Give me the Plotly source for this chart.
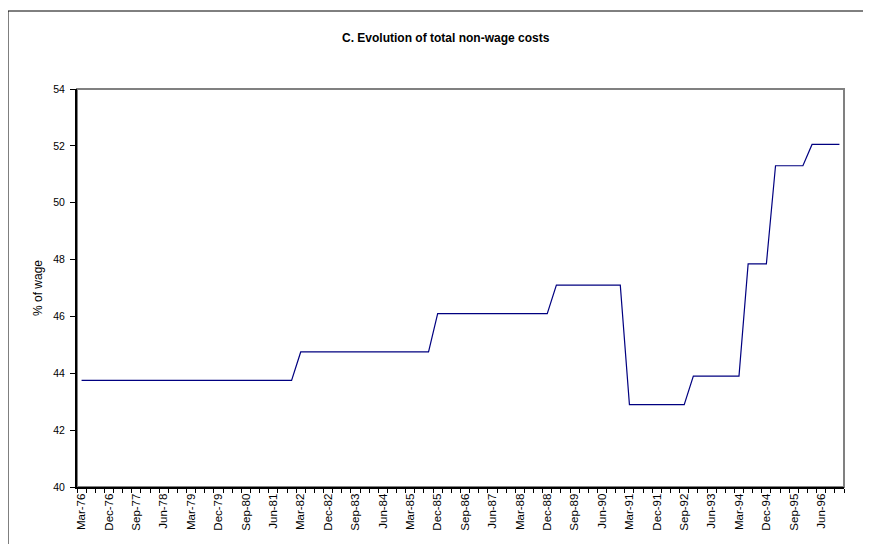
import plotly.graph_objects as go

# Quarterly categories Mar-76 .. Dec-96
months = ["Mar", "Jun", "Sep", "Dec"]
years = list(range(76, 97))
quarters = [f"{m}-{y:02d}" for y in years for m in months]

# Total non-wage costs, % of wage
nonwage_pct = [
    43.75, 43.75, 43.75, 43.75, 43.75, 43.75, 43.75, 43.75, 43.75, 43.75, 43.75, 43.75,
    43.75, 43.75, 43.75, 43.75, 43.75, 43.75, 43.75, 43.75, 43.75, 43.75, 43.75, 43.75,
    44.75, 44.75, 44.75, 44.75, 44.75, 44.75, 44.75, 44.75, 44.75, 44.75, 44.75, 44.75,
    44.75, 44.75, 44.75,
    46.1, 46.1, 46.1, 46.1, 46.1, 46.1, 46.1, 46.1, 46.1, 46.1, 46.1, 46.1, 46.1,
    47.1, 47.1, 47.1, 47.1, 47.1, 47.1, 47.1, 47.1,
    42.9, 42.9, 42.9, 42.9, 42.9, 42.9, 42.9,
    43.9, 43.9, 43.9, 43.9, 43.9, 43.9,
    47.85, 47.85, 47.85,
    51.3, 51.3, 51.3, 51.3,
    52.05, 52.05, 52.05, 52.05,
]

tick_labels = [
    "Mar-76", "Dec-76", "Sep-77", "Jun-78", "Mar-79", "Dec-79", "Sep-80", "Jun-81",
    "Mar-82", "Dec-82", "Sep-83", "Jun-84", "Mar-85", "Dec-85", "Sep-86", "Jun-87",
    "Mar-88", "Dec-88", "Sep-89", "Jun-90", "Mar-91", "Dec-91", "Sep-92", "Jun-93",
    "Mar-94", "Dec-94", "Sep-95", "Jun-96",
]

title_text = "C. Evolution of total non-wage costs"
y_title = "% of wage"

FONT = "Liberation Sans, Arial, sans-serif"

fig = go.Figure()
fig.add_trace(go.Scatter(
    x=quarters, y=nonwage_pct, mode="lines",
    line=dict(color="#000080", width=1.2),
    showlegend=False, hoverinfo="x+y",
))

# page body has an 8px margin, so the figure is laid out 8px smaller
OFF = 8
W, H = 871 - OFF, 544 - OFF
# plot area in screen pixels: x 77..844, y 89..487
L = 77 - OFF
T = 89 - OFF
R = W - (844 - OFF)
B = H - (487 - OFF)
pw, ph = W - L - R, H - T - B


def px_x(p):
    return (p - OFF - L) / pw


def px_y(p):
    return (H - B - (p - OFF)) / ph


fig.update_layout(
    width=W, height=H,
    margin=dict(l=L, r=R, t=T, b=B, pad=0),
    paper_bgcolor="white", plot_bgcolor="white",
    font=dict(family=FONT, size=10, color="black"),
    xaxis=dict(
        type="category", categoryorder="array", categoryarray=quarters,
        tickmode="array", tickvals=quarters,
        ticktext=[q if q in tick_labels else "" for q in quarters],
        tickson="boundaries", ticks="outside", ticklen=4, tickcolor="black", tickwidth=1,
        tickangle=-90, range=[-0.5, len(quarters) - 0.5],
        showline=True, linecolor="black", linewidth=2,
        showgrid=False, zeroline=False, fixedrange=True,
        tickfont=dict(family=FONT, size=11.5, color="black"),
    ),
    yaxis=dict(
        range=[40, 54], tickmode="linear", tick0=40, dtick=2,
        ticks="outside", ticklen=5, tickcolor="black", tickwidth=1,
        ticklabelstandoff=3,
        showline=True, linecolor="black", linewidth=2,
        showgrid=False, zeroline=False, fixedrange=True,
        tickfont=dict(family=FONT, size=10.5, color="black"),
    ),
    shapes=[
        dict(type="rect", xref="paper", yref="paper", x0=0, x1=1, y0=0, y1=1,
             line=dict(color="#808080", width=2), layer="below"),
        dict(type="rect", xref="paper", yref="paper",
             x0=px_x(8), x1=px_x(871 + 30), y0=px_y(544 + 30), y1=px_y(11),
             line=dict(color="black", width=1), layer="below"),
    ],
    annotations=[
        dict(text="<b>" + title_text + "</b>", xref="paper", yref="paper",
             x=px_x(446), y=px_y(38), xanchor="center", yanchor="middle",
             showarrow=False, font=dict(family=FONT, size=12, color="black")),
        dict(text=y_title, xref="paper", yref="paper",
             x=px_x(38), y=0.5, xanchor="center", yanchor="middle", textangle=-90,
             showarrow=False, font=dict(family=FONT, size=12, color="black")),
    ],
)

fig.write_html("out.html")
